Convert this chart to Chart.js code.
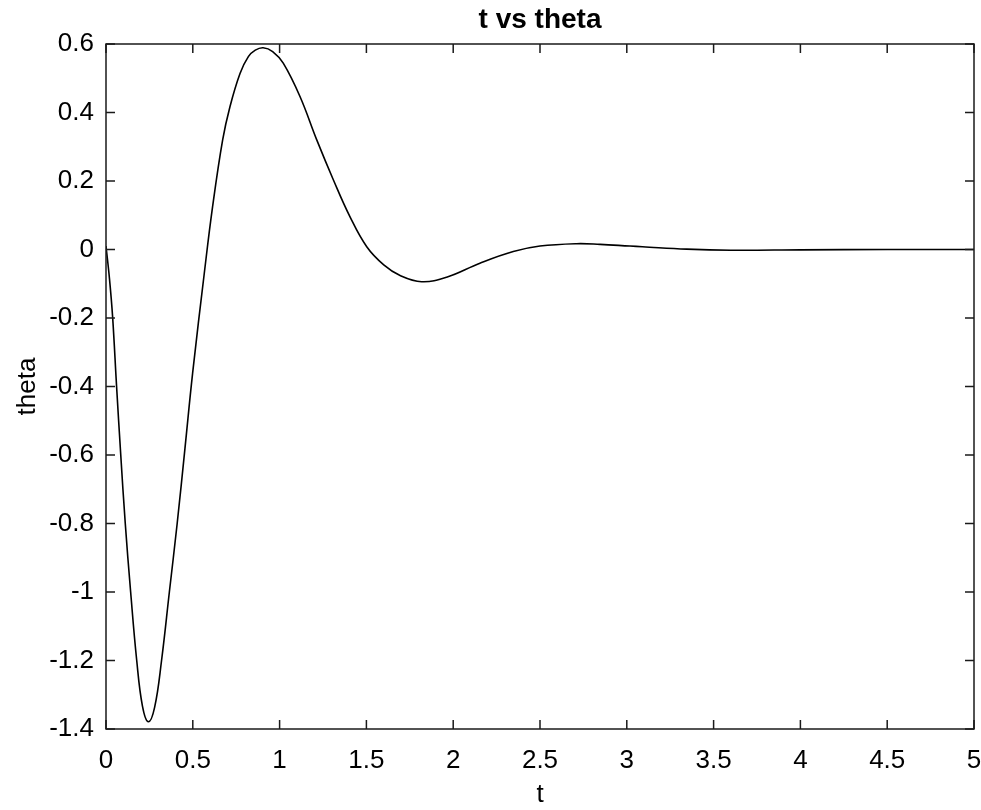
<!DOCTYPE html>
<html>
<head>
<meta charset="utf-8">
<script src="https://cdn.jsdelivr.net/npm/chart.js@4/dist/chart.umd.min.js"></script>
<style>
  html, body { margin: 0; padding: 0; background: #fff; }
  #wrap { width: 981px; height: 810px; }
</style>
</head>
<body>
<div id="wrap"><canvas id="theta_chart" width="981" height="810"></canvas></div>
<script>
// values
const tValues = [0, 0.02, 0.038, 0.061, 0.085, 0.111, 0.142, 0.177, 0.21, 0.244, 0.28, 0.32, 0.365, 0.41,
  0.455, 0.499, 0.566, 0.614, 0.672, 0.714, 0.772, 0.82, 0.86, 0.905, 0.96, 1.021, 1.118, 1.214, 1.31, 1.405,
  1.502, 1.6, 1.694, 1.818, 1.962, 2.154, 2.346, 2.5, 2.711, 2.846, 3.018, 3.09, 3.345, 3.6, 4.0, 4.5, 5.0];
const thetaValues = [0.01, -0.085, -0.196, -0.4, -0.6, -0.8, -1.0, -1.2, -1.333, -1.379, -1.337, -1.2, -1.0, -0.8,
  -0.58, -0.361, -0.07, 0.125, 0.32, 0.417, 0.514, 0.563, 0.582, 0.589, 0.578, 0.544, 0.446, 0.32, 0.203, 0.096,
  0.008, -0.045, -0.076, -0.094, -0.081, -0.04, -0.006, 0.01, 0.017, 0.015, 0.01, 0.008, 0.001, -0.002, -0.001, 0, 0];

const xTickValues = [0, 0.5, 1, 1.5, 2, 2.5, 3, 3.5, 4, 4.5, 5];
const yTickValues = [-1.4, -1.2, -1, -0.8, -0.6, -0.4, -0.2, 0, 0.2, 0.4, 0.6];

const chartTitle = "t vs theta";
const xLabel = "t";
const yLabel = "theta";

const fmt = (v) => {
  const r = Math.round(v * 10) / 10;
  return r === 0 ? "0" : String(r);
};

// matlab style box with inward ticks on all sides
const boxTicks = {
  id: "boxTicks",
  afterDatasetsDraw(chart) {
    const { ctx, chartArea: a, scales } = chart;
    const len = 9;
    ctx.save();
    ctx.strokeStyle = "#1a1a1a";
    ctx.lineWidth = 1.5;
    ctx.strokeRect(a.left, a.top, a.right - a.left, a.bottom - a.top);
    ctx.beginPath();
    xTickValues.forEach((v) => {
      const px = scales.x.getPixelForValue(v);
      ctx.moveTo(px, a.bottom);
      ctx.lineTo(px, a.bottom - len);
      ctx.moveTo(px, a.top);
      ctx.lineTo(px, a.top + len);
    });
    yTickValues.forEach((v) => {
      const py = scales.y.getPixelForValue(v);
      ctx.moveTo(a.left, py);
      ctx.lineTo(a.left + len, py);
      ctx.moveTo(a.right, py);
      ctx.lineTo(a.right - len, py);
    });
    ctx.stroke();
    ctx.restore();
  },
};

const font = "'Liberation Sans', Arial, Helvetica, sans-serif";

const drawThetaChart = () => {
  const canvas1 = document.querySelector("#theta_chart").getContext("2d");
  new Chart(canvas1, {
    type: "line",
    data: {
      datasets: [
        {
          label: "theta",
          data: tValues.map((t, i) => ({ x: t, y: thetaValues[i] })),
          borderColor: "#000",
          borderWidth: 1.6,
          pointRadius: 0,
          fill: false,
          tension: 0.4,
        },
      ],
    },
    options: {
      responsive: false,
      animation: false,
      layout: { padding: { left: 0, right: 7, top: 0, bottom: 0 } },
      plugins: {
        legend: false,
        tooltip: { enabled: false },
        title: {
          display: true,
          text: chartTitle,
          fullSize: false,
          color: "#000",
          font: { family: font, size: 28, weight: "bold", lineHeight: 1.2 },
          padding: { top: 3, bottom: 7.4 },
        },
      },
      scales: {
        x: {
          type: "linear",
          min: 0,
          max: 5,
          afterBuildTicks: (scale) => {
            scale.ticks = xTickValues.map((v) => ({ value: v }));
          },
          afterFit: (scale) => {
            scale.height = 81;
            scale.paddingLeft = 0;
            scale.paddingRight = 0;
          },
          grid: { display: false, drawTicks: false, tickLength: 0 },
          border: { display: false },
          ticks: {
            color: "#000",
            padding: 16,
            maxRotation: 0,
            font: { family: font, size: 26 },
            callback: (v) => fmt(v),
          },
          title: {
            display: true,
            text: xLabel,
            color: "#000",
            font: { family: font, size: 26 },
            padding: { top: 0, bottom: 0 },
          },
        },
        y: {
          type: "linear",
          min: -1.4,
          max: 0.6,
          afterBuildTicks: (scale) => {
            scale.ticks = yTickValues.map((v) => ({ value: v }));
          },
          afterFit: (scale) => {
            scale.width = 106;
          },
          grid: { display: false, drawTicks: false, tickLength: 0 },
          border: { display: false },
          ticks: {
            color: "#000",
            padding: 12,
            font: { family: font, size: 26 },
            callback: (v) => fmt(v),
          },
          title: {
            display: true,
            text: yLabel,
            color: "#000",
            font: { family: font, size: 26 },
            padding: { top: 12, bottom: 0 },
          },
        },
      },
    },
    plugins: [boxTicks],
  });
};

drawThetaChart();
</script>
</body>
</html>
